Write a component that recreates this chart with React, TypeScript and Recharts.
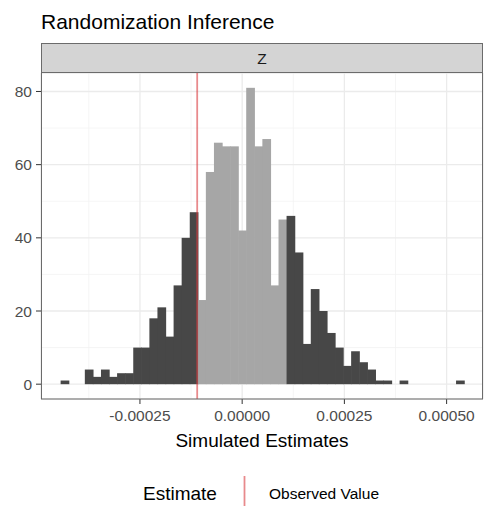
import { ComposedChart, Bar, Cell, XAxis, YAxis, CartesianGrid, ReferenceLine } from 'recharts';

// histogram bin centres (50 bins) and counts
const binCenters = [
  -0.0004333, -0.0004136, -0.0003938, -0.0003741, -0.0003544, -0.0003346, -0.0003149, -0.0002952,
  -0.0002754, -0.0002557, -0.0002359, -0.0002162, -0.0001965, -0.0001767, -0.000157, -0.0001373,
  -0.0001175, -0.0000978, -0.0000781, -0.0000583, -0.0000386, -0.0000188, 0.0000009, 0.0000206,
  0.0000404, 0.0000601, 0.0000799, 0.0000996, 0.0001193, 0.0001391, 0.0001588, 0.0001785,
  0.0001983, 0.000218, 0.0002378, 0.0002575, 0.0002772, 0.000297, 0.0003167, 0.0003364,
  0.0003562, 0.0003759, 0.0003957, 0.0004154, 0.0004351, 0.0004549, 0.0004746, 0.0004943,
  0.0005141, 0.0005338,
];
const counts = [
  1, 0, 0, 4, 2, 4, 2, 3, 3, 10, 10, 18, 21, 13, 27, 40, 47,
  23, 58, 66, 65, 65, 42, 81, 65, 67, 27, 45,
  46, 36, 11, 26, 20, 14, 10, 5, 9, 6, 4, 1, 1, 0, 1, 0, 0, 0, 0, 0, 0, 1,
];
const observedValue = -0.00011;

const xTicks = [-0.00025, 0, 0.00025, 0.0005];
const xTickLabels = ['-0.00025', '0.00000', '0.00025', '0.00050'];
const xMinorTicks = [-0.000375, -0.000125, 0.000125, 0.000375];
const yTicks = [0, 20, 40, 60, 80];
const yMinorTicks = [10, 30, 50, 70];

const data = binCenters.map((x, i) => ({ x, count: counts[i] }));

const FONT = '"Liberation Sans", Arial, sans-serif';
const DARK = '#474747';
const LIGHT = '#a6a6a6';
const RED = '#d83c40';

// histogram bars touch each other: widen each rect a little to hide antialias seams
const HistBar = (props: any) => {
  const { x, y, width, height, fill } = props;
  if (!height || height <= 0) return null;
  return <rect x={x - 0.35} y={y} width={width + 0.7} height={height} fill={fill} />;
};

export default function App() {
  return (
    <div style={{ position: 'fixed', left: 0, top: 0, width: 486, height: 506, background: '#fff', fontFamily: FONT }}>
      <ComposedChart
        width={486}
        height={506}
        data={data}
        margin={{ top: 73, right: 3, bottom: 77, left: 0 }}
        barCategoryGap={0}
        barGap={0}
      >
        <CartesianGrid
          horizontalValues={yMinorTicks}
          verticalValues={xMinorTicks}
          stroke="#f3f3f3"
          strokeWidth={0.8}
        />
        <CartesianGrid stroke="#ebebeb" strokeWidth={1.3} />
        <XAxis
          dataKey="x"
          type="number"
          domain={[-0.000492, 0.000589]}
          ticks={xTicks}
          tickFormatter={(v) => xTickLabels[xTicks.indexOf(v)]}
          allowDataOverflow
          height={30}
          axisLine={false}
          tickSize={5}
          tickMargin={6}
          tickLine={{ stroke: '#333' }}
          tick={{ fontSize: 15.5, fill: '#4d4d4d', fontFamily: FONT }}
        />
        <YAxis
          type="number"
          domain={[-4.05, 85.05]}
          ticks={yTicks}
          allowDataOverflow
          width={41}
          axisLine={false}
          tickSize={5}
          tickMargin={4}
          tickLine={{ stroke: '#333' }}
          tick={{ fontSize: 15.5, fill: '#4d4d4d', fontFamily: FONT }}
        />
        <Bar dataKey="count" shape={HistBar} isAnimationActive={false}>
          {data.map((d, i) => (
            <Cell key={i} fill={Math.abs(d.x) < Math.abs(observedValue) ? LIGHT : DARK} />
          ))}
        </Bar>
        <ReferenceLine x={observedValue} stroke={RED} strokeOpacity={0.6} strokeWidth={1.8} />
      </ComposedChart>

      <svg
        width={486}
        height={506}
        style={{ position: 'absolute', left: 0, top: 0, pointerEvents: 'none' }}
        fontFamily={FONT}
      >
        <text x={41} y={29} fontSize={21} fill="#000">Randomization Inference</text>
        <rect x={41.5} y={43.5} width={441} height={29} fill="#d4d4d4" stroke="#6b6b6b" strokeWidth={1} />
        <text x={262} y={63.5} fontSize={15.5} fill="#1a1a1a" textAnchor="middle">Z</text>
        <rect x={41.5} y={72.5} width={441} height={326.5} fill="none" stroke="#6b6b6b" strokeWidth={1} />
        <text x={262} y={447} fontSize={19} fill="#000" textAnchor="middle">Simulated Estimates</text>
        <text x={143} y={500} fontSize={19} fill="#000">Estimate</text>
        <line x1={244.5} y1={476} x2={244.5} y2={506} stroke={RED} strokeOpacity={0.6} strokeWidth={1.8} />
        <text x={269} y={499} fontSize={15.5} fill="#000">Observed Value</text>
      </svg>
    </div>
  );
}
